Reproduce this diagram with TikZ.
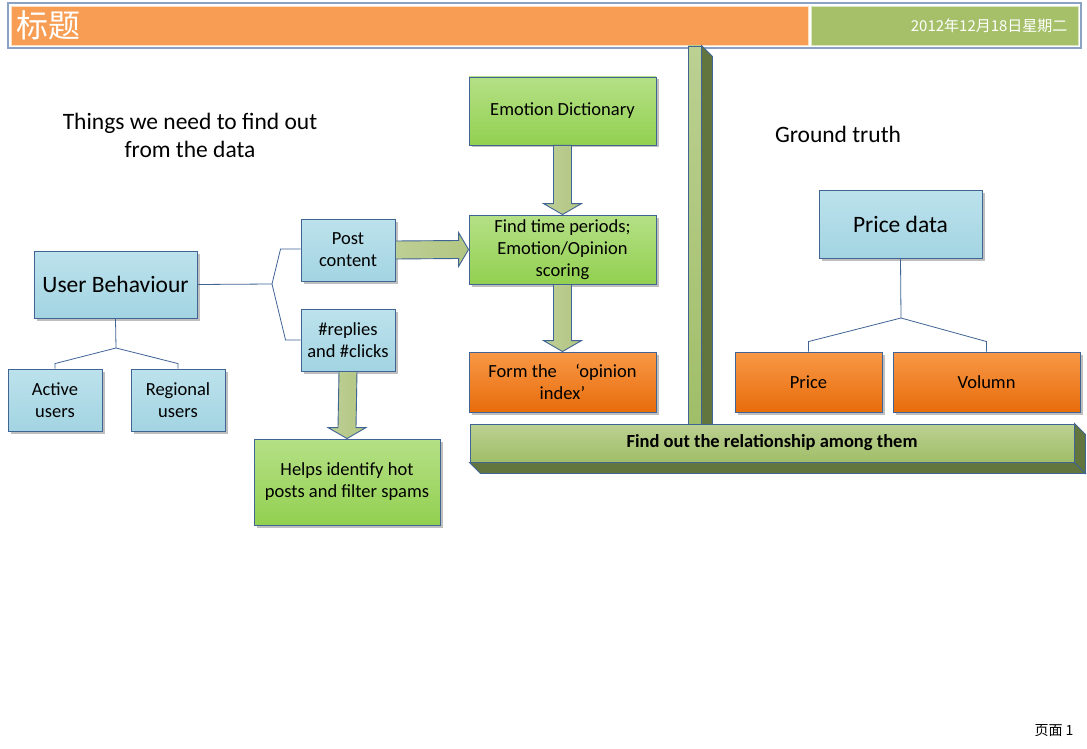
\documentclass[tikz,border=0pt]{standalone}
\usepackage{fontspec}
\setmainfont{Carlito}
\newfontfamily\cjk{Noto Sans CJK SC}
\usetikzlibrary{calc,shadows}

\definecolor{bordr}{RGB}{64,100,148}
\definecolor{bluetop}{RGB}{188,226,236}
\definecolor{bluebot}{RGB}{163,212,226}
\definecolor{greentop}{RGB}{181,224,134}
\definecolor{greenbot}{RGB}{146,208,80}
\definecolor{orangetop}{RGB}{248,152,70}
\definecolor{orangebot}{RGB}{232,108,12}
\definecolor{bartop}{RGB}{188,208,146}
\definecolor{barbot}{RGB}{160,190,104}
\definecolor{barside}{RGB}{98,117,62}
\definecolor{arrowfill}{RGB}{178,198,130}
\definecolor{headorange}{RGB}{247,158,84}
\definecolor{headgreen}{RGB}{166,192,106}
\definecolor{framec}{RGB}{140,162,196}

\tikzset{
  box/.style={draw=bordr, line width=0.9pt, align=center, inner sep=2pt,
    font=\fontsize{18.5}{22}\selectfont,
    drop shadow={shadow xshift=2.5pt, shadow yshift=-2.5pt, fill=black, opacity=0.25}},
  bluebox/.style={box, top color=bluetop, bottom color=bluebot},
  greenbox/.style={box, top color=greentop, bottom color=greenbot},
  orangebox/.style={box, top color=orangetop, bottom color=orangebot},
  bar/.style={draw=bordr, line width=0.9pt, top color=bartop, bottom color=barbot},
  barface/.style={draw=bordr, line width=0.9pt, fill=barside},
  blockarr/.style={draw=bordr, line width=0.9pt, left color=arrowfill!85!white, right color=arrowfill, line join=miter},
  tree/.style={draw=bordr, line width=0.8pt},
  bigtext/.style={font=\fontsize{23.5}{28}\selectfont, align=center}
}

\begin{document}
\begin{tikzpicture}[x=1pt, y=-1pt]
  \useasboundingbox[fill=white] (0,0) rectangle (1087,749);

  % header
  \draw[framec, line width=1.5pt] (8,3) rectangle (1081,48);
  \draw[fill=headorange, draw=orange!25] (11,6) rectangle (808,45);
  \draw[fill=headgreen, draw=headgreen!40] (811,6) rectangle (1078,45);
  \node[anchor=west, text=white, font=\cjk\fontsize{32}{34}\selectfont] (title) at (13,25) {标题};
  \node[anchor=east, text=white, font=\cjk\fontsize{15}{17}\selectfont] (date) at (1071,26) {2012年12月18日星期二};

  % left part
  \node[bigtext] (things) at (190,135) {Things we need to find out\\from the data};
  \node[bluebox, minimum width=163, minimum height=67, font=\fontsize{23.5}{26}\selectfont] (ub) at (115.5,284.5) {User Behaviour};
  \node[bluebox, minimum width=94, minimum height=62] (act) at (55,400) {Active\\users};
  \node[bluebox, minimum width=94, minimum height=62] (reg) at (178,400) {Regional\\users};
  \node[bluebox, minimum width=94, minimum height=62] (post) at (348,250) {Post\\content};
  \node[bluebox, minimum width=94, minimum height=62] (repl) at (348,340) {\#replies\\and \#clicks};
  \node[greenbox, minimum width=186, minimum height=86] (helps) at (347,482) {Helps identify hot\\posts and filter spams};

  % middle column
  \node[greenbox, minimum width=187, minimum height=68] (emo) at (562.5,111) {Emotion Dictionary};
  \node[greenbox, minimum width=187, minimum height=69] (scor) at (562.5,249.5) {Find time periods;\\Emotion/Opinion\\scoring};
  \node[orangebox, minimum width=187, minimum height=60] (opin) at (562.5,382) {Form the\quad ‘opinion\\index’};

  % right part
  \node[bigtext] (ground) at (838,134) {Ground truth};
  \node[bluebox, minimum width=163, minimum height=68, font=\fontsize{23.5}{26}\selectfont] (pdata) at (900.5,224) {Price data};
  \node[orangebox, minimum width=147, minimum height=60] (price) at (808.5,382) {Price};
  \node[orangebox, minimum width=187, minimum height=60] (vol) at (986.5,382) {Volumn};

  % tree lines
  \coordinate (ubj) at (116,348);
  \coordinate (ubr) at (272,284);
  \coordinate (pj) at (901,318);
  \begin{scope}[tree]
    \draw (ub.south) -- (ubj);
    \draw (act.north) -- ++(0,-5) -- (ubj) -- ($(reg.north)+(0,-5)$) -- (reg.north);
    \draw (ub.east) -- (ubr);
    \draw (ubr) -- ($(post.west)+(-20,-1)$) -- ($(post.west)+(0,-1)$);
    \draw (ubr) -- ($(repl.west)+(-15,0)$) -- (repl.west);
    \draw (pdata.south) -- (pj);
    \draw (price.north) -- ++(0,-10) -- (pj) -- ($(vol.north)+(0,-10)$) -- (vol.north);
  \end{scope}

  % block arrows
  \draw[blockarr] ($(post.east)+(0,-9)$) -- ($(scor.west)+(-10,-9)$) -- ($(scor.west)+(-10,-17)$)
    -- (scor.west) -- ($(scor.west)+(-10,17)$) -- ($(scor.west)+(-10,9)$) -- ($(post.east)+(0,9)$) -- cycle;
  \foreach \a/\b in {emo/scor, scor/opin, repl/helps}
    \draw[blockarr] ($(\a.south)+(-9,0)$) -- ($(\b.north)+(-9,-11)$) -- ($(\b.north)+(-19,-11)$)
      -- (\b.north) -- ($(\b.north)+(19,-11)$) -- ($(\b.north)+(9,-11)$) -- ($(\a.south)+(9,0)$) -- cycle;

  % 3d bars
  \node[bar, minimum width=13, minimum height=378, inner sep=0pt] (vbar) at (694.5,235) {};
  \draw[barface] (vbar.north east) -- ++(11,11) -- ($(vbar.south east)+(11,0)$) -- (vbar.south east) -- cycle;
  \node[bar, minimum width=604, minimum height=38, inner sep=0pt, font=\bfseries\fontsize{18.5}{20}\selectfont] (rel) at (772,443) {Find out the relationship among them};
  \draw[barface] (rel.south west) -- ++(11,11) -- ($(rel.south east)+(11,11)$) -- (rel.south east) -- cycle;
  \draw[barface] (rel.north east) -- ++(11,11) -- ($(rel.south east)+(11,11)$) -- (rel.south east) -- cycle;

  % footer
  \node[font=\cjk\fontsize{14}{16}\selectfont] (page) at (1054,731) {页面 1};
\end{tikzpicture}
\end{document}
